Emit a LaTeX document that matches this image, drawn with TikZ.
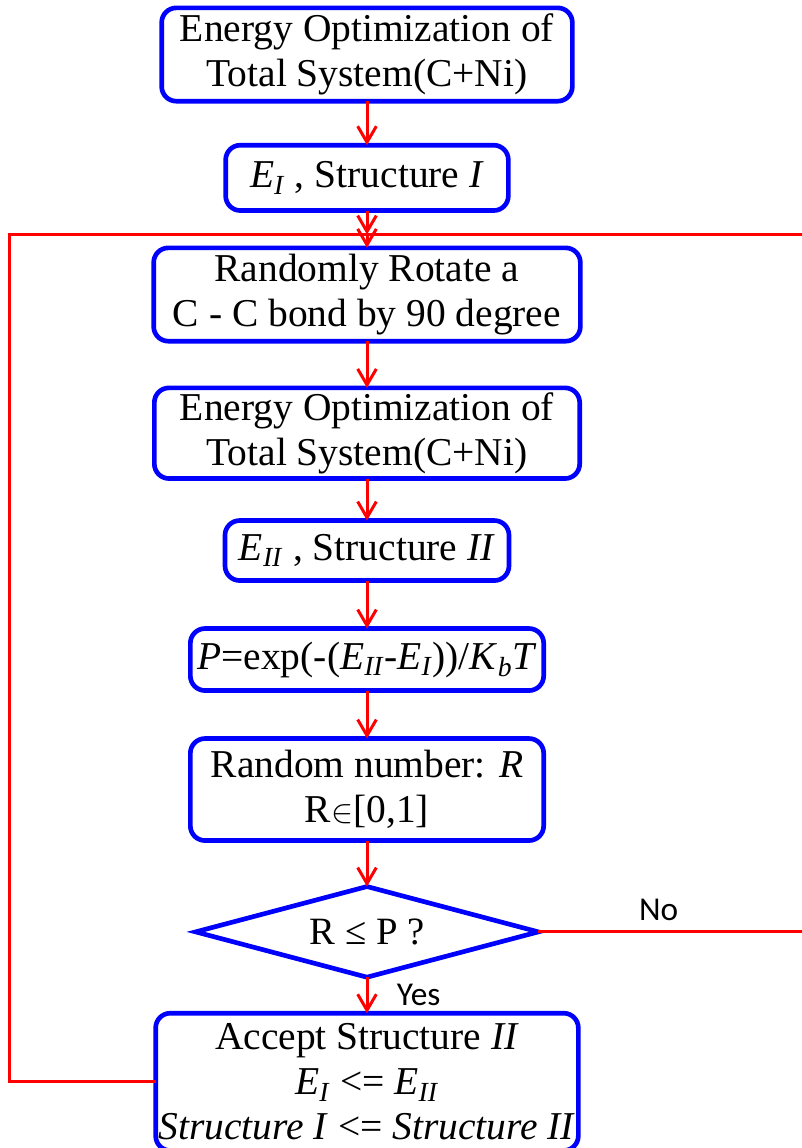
\documentclass[tikz,border=0pt]{standalone}
\usepackage{amsmath}
\usepackage{fontspec}
\setmainfont{Liberation Serif}
\newfontfamily\labelfont{Carlito}
\usetikzlibrary{positioning,arrows.meta,shapes.geometric}

\newcommand{\Esub}[1]{\textit{E}\textsubscript{\textit{#1}}}

\begin{document}
\begin{tikzpicture}[
  node distance=34pt,
  flowbox/.style={draw=blue, line width=3.5pt, rounded corners=11pt, align=center, fill=white, inner sep=2pt, outer sep=0pt, font=\fontsize{29.6pt}{33.75pt}\selectfont},
  decide/.style={draw=blue, line width=3.5pt, diamond, aspect=3.8, inner sep=0pt, outer sep=0pt, minimum width=257pt, minimum height=68pt, font=\fontsize{29pt}{33pt}\selectfont},
  arr/.style={-{Straight Barb[length=12pt,width=14pt]}, red, line width=2.25pt},
  loopline/.style={red, line width=2.25pt},
  tag/.style={text=black, font=\labelfont\fontsize{25pt}{29pt}\selectfont}
]
\useasboundingbox (0,0) rectangle (600.75pt,-861pt);
\node[flowbox, minimum width=308pt, minimum height=70pt] (opt1) at (275.25pt,-40.9pt) {Energy Optimization of\\Total System(C+Ni)};
\node[flowbox, minimum width=212pt, minimum height=49pt, below=33pt of opt1] (state1) {\Esub{I} , Structure \textit{I}};
\node[flowbox, minimum width=320pt, minimum height=70pt, below=28pt of state1] (rotate) {Randomly Rotate a\\C - C bond by 90 degree};
\node[flowbox, minimum width=319pt, minimum height=68pt, below=35pt of rotate] (opt2) {Energy Optimization of\\Total System(C+Ni)};
\node[flowbox, minimum width=213pt, minimum height=45pt, below=31.5pt of opt2] (state2) {\Esub{II} , Structure \textit{II}};
\node[flowbox, minimum width=265pt, minimum height=46.5pt, below=36pt of state2] (prob) {\textit{P}=exp(-(\Esub{II}-\Esub{I}))/\textit{K}\textsubscript{\textit{b}}\textit{T}};
\node[flowbox, minimum width=265pt, minimum height=76.5pt, below=36pt of prob] (rand) {Random number: \textit{R}\\R$\in$[0,1]};
\node[decide, below=34.5pt of rand] (test) {R ≤ P ?};
\node[flowbox, minimum width=317pt, minimum height=103pt, inner sep=1pt, below=27pt of test] (accept) {Accept Structure \textit{II}\\\Esub{I} <= \Esub{II}\\\textit{Structure I} <= \textit{Structure II}};

\coordinate[above=10pt of rotate.north] (merge);

\draw[arr] (opt1) -- (state1);
\draw[arr] (state1) -- (merge);
\draw[arr] (merge) -- (rotate);
\draw[arr] (rotate) -- (opt2);
\draw[arr] (opt2) -- (state2);
\draw[arr] (state2) -- (prob);
\draw[arr] (prob) -- (rand);
\draw[arr] (rand) -- (test);
\draw[arr] (test) -- node[tag, right=18pt] {Yes} (accept);
\draw[loopline] (accept.west) -- ++(-110pt,0) |- (merge);
\draw[loopline] (test.east) -- node[tag, above=4pt, pos=0.44] {No} ++(205pt,0) |- (merge);
\end{tikzpicture}
\end{document}
